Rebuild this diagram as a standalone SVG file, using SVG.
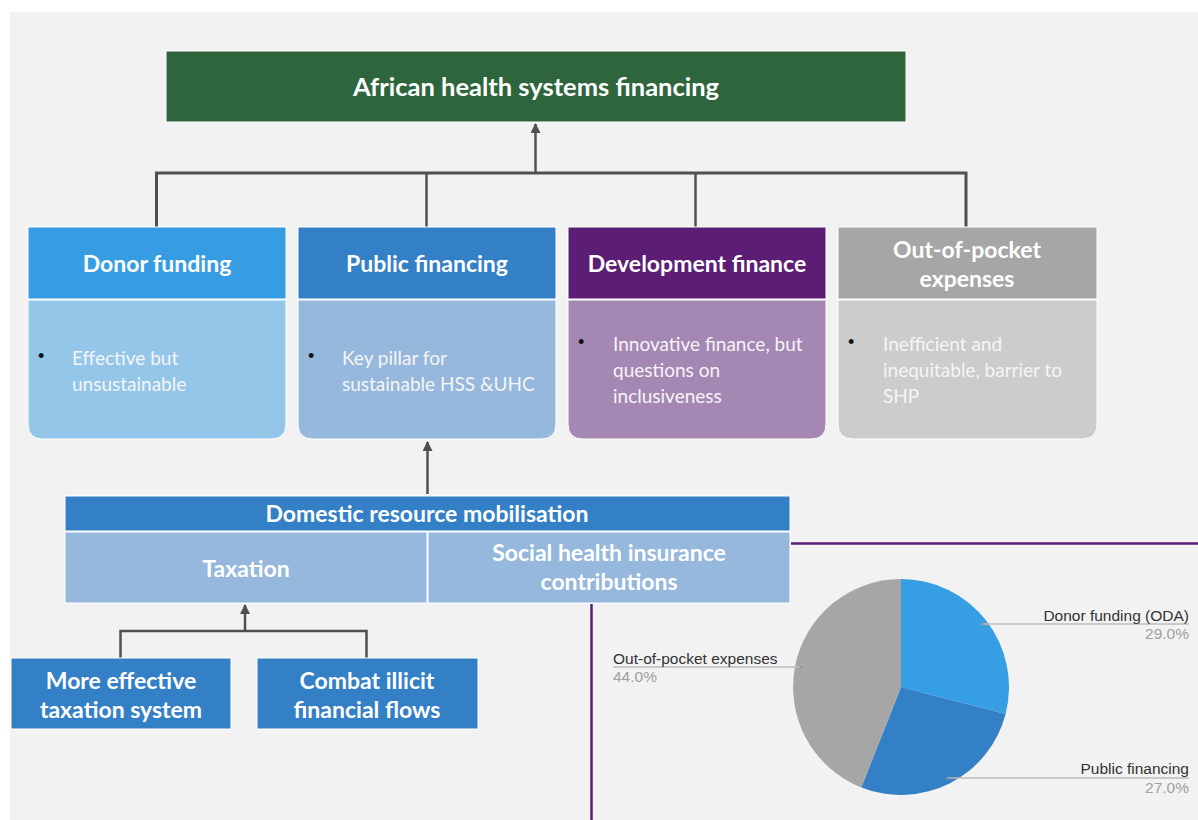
<svg xmlns="http://www.w3.org/2000/svg" width="1198" height="820" viewBox="0 0 1198 820">
  <defs>
    <marker id="arrow" viewBox="0 0 10 10" refX="9" refY="5" markerWidth="4" markerHeight="4" orient="auto-start-reverse">
      <path d="M0,0 L10,5 L0,10 z" fill="#505050"/>
    </marker>
    <style>
      .bg { fill: #f2f2f2; }
      .edge { fill: none; stroke: #505050; stroke-width: 2.5; }
      .bus { fill: none; stroke: #505050; stroke-width: 3; }
      .frame { stroke: #ffffff; stroke-width: 1; }
      .head { font-family: Lato, "Liberation Sans", sans-serif; font-weight: bold; font-size: 23px; fill: #ffffff; text-anchor: middle; dominant-baseline: central; }
      .title { font-size: 25.5px; }
      .body { font-family: Lato, "Liberation Sans", sans-serif; font-size: 19px; fill: #f5f5f5; dominant-baseline: central; }
      .dot { font-family: "Liberation Sans", sans-serif; font-size: 18px; fill: #111111; dominant-baseline: central; }
      .purple { fill: none; stroke: #5b1e74; stroke-width: 2.5; }
      .pielabel { font-family: "Liberation Sans", sans-serif; font-size: 15.5px; fill: #333333; dominant-baseline: central; }
      .pieval { font-family: "Liberation Sans", sans-serif; font-size: 15.5px; fill: #a0a0a0; dominant-baseline: central; }
      .leader { fill: none; stroke: #bdbdbd; stroke-width: 1.5; }
    </style>
  </defs>

  <rect x="0" y="0" width="1198" height="820" fill="#ffffff"/>
  <rect class="bg" x="10" y="12" width="1188" height="808"/>

  <!-- connectors -->
  <g id="connectors">
    <path class="edge" d="M535.5,173 V124" marker-end="url(#arrow)"/>
    <path class="bus" d="M156.5,227 V173 H966 V227"/>
    <path class="edge" d="M426.5,173 V227"/>
    <path class="edge" d="M695.5,173 V227"/>
    <path class="edge" d="M427.5,494 V442" marker-end="url(#arrow)"/>
    <path class="edge" d="M245,631 V605" marker-end="url(#arrow)"/>
    <path class="edge" d="M120.5,658 V631 H366.5 V658"/>
  </g>

  <!-- top node -->
  <g id="node-african-health-systems-financing">
    <rect class="frame" x="166" y="51" width="740" height="71" fill="#2e653d"/>
    <text class="head title" x="536" y="86">African health systems financing</text>
  </g>

  <!-- financing sources -->
  <g id="node-donor-funding">
    <rect class="frame" x="28" y="227" width="258" height="72" fill="#379de2"/>
    <path class="frame" d="M28,300 H286 V424 Q286,439 271,439 H43 Q28,439 28,424 Z" fill="#94c6ea"/>
    <text class="head" x="157" y="263">Donor funding</text>
    <text class="dot" x="38" y="356">•</text>
    <text class="body" x="72" y="357">Effective but</text>
    <text class="body" x="72" y="383">unsustainable</text>
  </g>

  <g id="node-public-financing">
    <rect class="frame" x="298" y="227" width="258" height="72" fill="#3480c6"/>
    <path class="frame" d="M298,300 H556 V424 Q556,439 541,439 H313 Q298,439 298,424 Z" fill="#95b8dc"/>
    <text class="head" x="427" y="263">Public financing</text>
    <text class="dot" x="308" y="356">•</text>
    <text class="body" x="342" y="357">Key pillar for</text>
    <text class="body" x="342" y="383">sustainable HSS &amp;UHC</text>
  </g>

  <g id="node-development-finance">
    <rect class="frame" x="568" y="227" width="258" height="72" fill="#5b1e74"/>
    <path class="frame" d="M568,300 H826 V424 Q826,439 811,439 H583 Q568,439 568,424 Z" fill="#a587b4"/>
    <text class="head" x="697" y="263">Development finance</text>
    <text class="dot" x="578" y="342">•</text>
    <text class="body" x="613" y="343">Innovative finance, but</text>
    <text class="body" x="613" y="369">questions on</text>
    <text class="body" x="613" y="395">inclusiveness</text>
  </g>

  <g id="node-out-of-pocket-expenses">
    <rect class="frame" x="838" y="227" width="259" height="72" fill="#a6a6a6"/>
    <path class="frame" d="M838,300 H1097 V424 Q1097,439 1082,439 H853 Q838,439 838,424 Z" fill="#cccccc"/>
    <text class="head" x="967" y="249">Out-of-pocket</text>
    <text class="head" x="967" y="278">expenses</text>
    <text class="dot" x="848" y="342">•</text>
    <text class="body" x="883" y="343">Inefficient and</text>
    <text class="body" x="883" y="369">inequitable, barrier to</text>
    <text class="body" x="883" y="395">SHP</text>
  </g>

  <!-- domestic resource mobilisation -->
  <g id="node-domestic-resource-mobilisation">
    <rect class="frame" x="65" y="496" width="725" height="35" fill="#3480c6"/>
    <text class="head" x="427" y="513">Domestic resource mobilisation</text>
  </g>
  <g id="node-taxation">
    <rect class="frame" x="65" y="532" width="362" height="71" fill="#95b8dc"/>
    <text class="head" x="246" y="568">Taxation</text>
  </g>
  <g id="node-social-health-insurance">
    <rect class="frame" x="428" y="532" width="362" height="71" fill="#95b8dc"/>
    <text class="head" x="609" y="552">Social health insurance</text>
    <text class="head" x="609" y="581">contributions</text>
  </g>

  <g id="node-more-effective-taxation">
    <rect class="frame" x="11" y="658" width="220" height="71" fill="#3480c6"/>
    <text class="head" x="121" y="680">More effective</text>
    <text class="head" x="121" y="709">taxation system</text>
  </g>
  <g id="node-combat-illicit-flows">
    <rect class="frame" x="257" y="658" width="221" height="71" fill="#3480c6"/>
    <text class="head" x="367" y="680">Combat illicit</text>
    <text class="head" x="367" y="709">financial flows</text>
  </g>

  <!-- chart frame lines -->
  <path class="purple" d="M791,543.5 H1198"/>
  <path class="purple" d="M591.5,604 V820"/>

  <!-- financing share pie -->
  <g id="pie">
    <path d="M901,687 L901,579 A108,108 0 0 1 1005.6,713.9 Z" fill="#369ee2"/>
    <path d="M901,687 L1005.6,713.9 A108,108 0 0 1 861.3,787.4 Z" fill="#3480c6"/>
    <path d="M901,687 L861.3,787.4 A108,108 0 0 1 901,579 Z" fill="#a6a6a6"/>

    <path class="leader" d="M982,624 H1189"/>
    <circle cx="982" cy="624" r="1.5" fill="#999999"/>
    <text class="pielabel" x="1189" y="615" text-anchor="end">Donor funding (ODA)</text>
    <text class="pieval" x="1189" y="633" text-anchor="end">29.0%</text>

    <path class="leader" d="M948,778 H1189"/>
    <circle cx="948" cy="778" r="1.5" fill="#999999"/>
    <text class="pielabel" x="1189" y="768" text-anchor="end">Public financing</text>
    <text class="pieval" x="1189" y="787" text-anchor="end">27.0%</text>

    <path class="leader" d="M613,667 H801"/>
    <circle cx="801" cy="667" r="1.5" fill="#999999"/>
    <text class="pielabel" x="613" y="658">Out-of-pocket expenses</text>
    <text class="pieval" x="613" y="676">44.0%</text>
  </g>
</svg>
